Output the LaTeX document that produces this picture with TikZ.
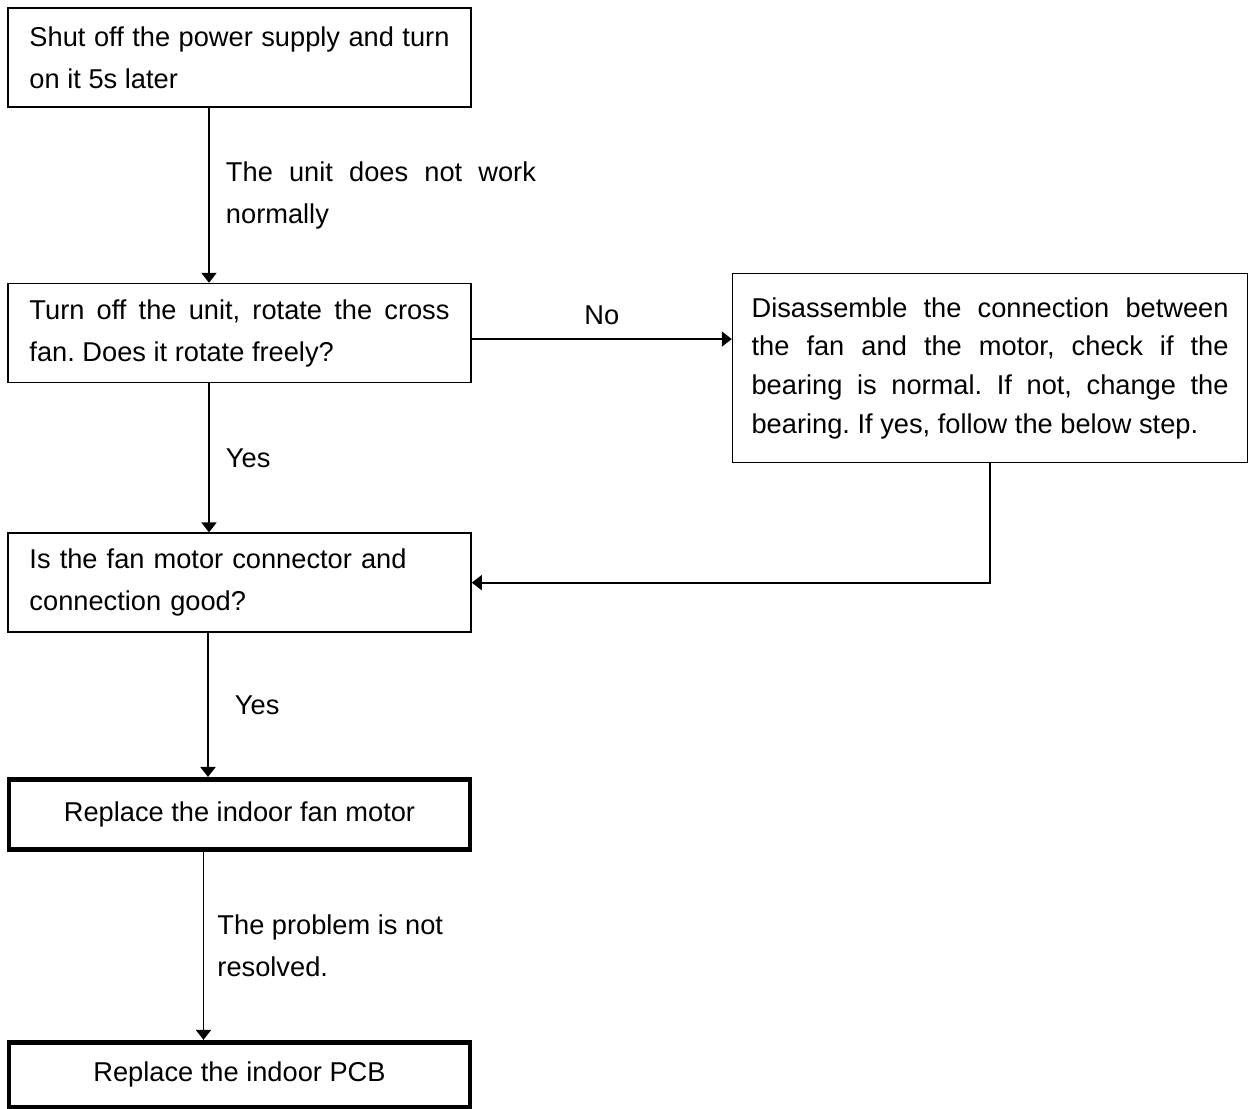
\documentclass[tikz,border=0pt]{standalone}
\usepackage{fontspec}
\setmainfont{Liberation Sans}
\usetikzlibrary{positioning,arrows.meta}
\frenchspacing
\hyphenpenalty=10000
\exhyphenpenalty=10000
\begin{document}
\begin{tikzpicture}[node distance=2cm,
    font=\fontsize{15.5pt}{23.8pt}\selectfont,
    box/.style={draw, rectangle, line width=0.9pt, text width=8.4cm, inner xsep=0.43cm, minimum height=1.98cm, align=justify},
    bigbox/.style={box, text width=9.54cm, inner xsep=0.38cm, minimum height=3.78cm, font=\fontsize{15.5pt}{22pt}\selectfont},
    endbox/.style={draw, rectangle, line width=2.8pt, minimum width=9.22cm, align=center},
    arr/.style={-{Triangle[length=0.2cm,width=0.3cm]}, line width=1.1pt},
    lbl/.style={right, inner xsep=0.32cm, inner ysep=0pt}]
        \useasboundingbox (0,0) rectangle (24.96,-22.18);

        \node[box] (shut) at (4.79,-1.15) {Shut off the power supply and turn on it 5s later};
        \node[box, below=3.5cm of shut] (rotate) {Turn off the unit, rotate the cross fan. Does it rotate freely?};
        \node[bigbox, anchor=north west] (bearing) at ([shift={(5.2,0.2)}]rotate.north east) {Disassemble the connection between the fan and the motor, check if the bearing is normal. If not, change the bearing. If yes, follow the below step.};
        \node[box, align=left, below=2.98cm of rotate] (connector) {Is the fan motor connector and connection good?};
        \node[endbox, minimum height=1.4cm, below=2.88cm of connector] (motor) {Replace the indoor fan motor};
        \node[endbox, minimum height=1.3cm, below=3.76cm of motor] (pcb) {Replace the indoor PCB};

        \draw[arr] ([xshift=-0.61cm]shut.south) -- node[lbl, text width=6.2cm, align=justify] {\tolerance=10000 The unit does not work normally} ([xshift=-0.61cm]rotate.north);
        \draw[arr] ([yshift=-0.12cm]rotate.east) -- node[above=0.15cm] {No} ([yshift=-0.12cm]rotate.east -| bearing.west);
        \draw[arr] ([xshift=-0.61cm]rotate.south) -- node[lbl] {Yes} ([xshift=-0.61cm]connector.north);
        \draw[arr] (bearing.south) |- (connector.east);
        \draw[arr] ([xshift=-0.63cm]connector.south) -- node[lbl, xshift=0.2cm] {Yes} ([xshift=-0.63cm]motor.north);
        \draw[arr] ([xshift=-0.72cm]motor.south) -- node[lbl, xshift=-0.06cm, align=left] {The problem is not\\resolved.} ([xshift=-0.72cm]pcb.north);
    \end{tikzpicture}
\end{document}
